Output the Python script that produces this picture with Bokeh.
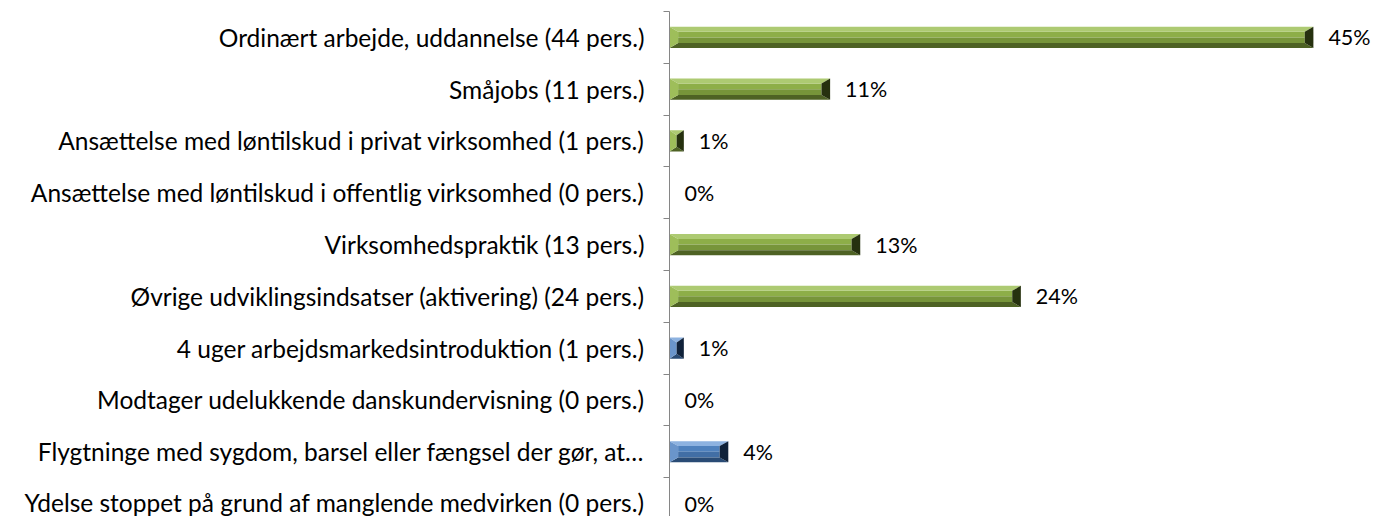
from bokeh.plotting import figure
from bokeh.models import Range1d, FixedTicker, ColumnDataSource
from bokeh.core.properties import value
from bokeh.embed import file_html
from bokeh.resources import INLINE

categories = [
    "Ordinært arbejde, uddannelse (44 pers.)",
    "Småjobs (11 pers.)",
    "Ansættelse med løntilskud i privat virksomhed (1 pers.)",
    "Ansættelse med løntilskud i offentlig virksomhed (0 pers.)",
    "Virksomhedspraktik (13 pers.)",
    "Øvrige udviklingsindsatser (aktivering) (24 pers.)",
    "4 uger arbejdsmarkedsintroduktion (1 pers.)",
    "Modtager udelukkende danskundervisning (0 pers.)",
    "Flygtninge med sygdom, barsel eller fængsel der gør, at…",
    "Ydelse stoppet på grund af manglende medvirken (0 pers.)",
]
percent_values = [44.9, 11.2, 1.0, 0.0, 13.3, 24.5, 1.0, 0.0, 4.1, 0.0]
percent_labels = ["45%", "11%", "1%", "0%", "13%", "24%", "1%", "0%", "4%", "0%"]
bar_groups = ["green", "green", "green", "green", "green", "green", "blue", "blue", "blue", "blue"]

palettes = {
    "green": {"top": "#ADCA72", "face": "#8DAE48", "low": "#77953A", "bottom": "#4E6224",
              "left": "#9EBE5A", "right": "#26310F"},
    "blue": {"top": "#8DB2E0", "face": "#4F81BD", "low": "#416EA5", "bottom": "#294B75",
             "left": "#6A95CB", "right": "#10223A"},
}

n = len(categories)
ys = [n - 1 - i for i in range(n)]

FONT = "Lato"

p = figure(width=1376, height=516, output_backend="svg", toolbar_location=None,
           x_range=Range1d(0, 49.3), y_range=Range1d(-0.25, 9.5),
           min_border_left=669, min_border_right=0, min_border_top=11, min_border_bottom=0)
p.outline_line_color = None
p.xgrid.visible = False
p.ygrid.visible = False
p.xaxis.visible = False

yax = p.yaxis[0]
yax.ticker = FixedTicker(ticks=ys, minor_ticks=[y + 0.5 for y in range(-1, n)])
yax.major_label_overrides = {y: c for y, c in zip(ys, categories)}
yax.major_tick_out = 0
yax.major_tick_in = 0
yax.minor_tick_out = 6
yax.minor_tick_in = 0
yax.minor_tick_line_color = "#868686"
yax.axis_line_color = "#868686"
yax.axis_line_width = 1
yax.major_label_text_font = FONT
yax.major_label_text_font_size = "24.5px"
yax.major_label_text_color = "#000000"
yax.major_label_standoff = 19

h = 0.205   # half bar height (category units)
by = 0.095  # vertical bevel
bx0 = 0.6   # horizontal bevel (data units)

for v, y, g in zip(percent_values, ys, bar_groups):
    if v <= 0:
        continue
    c = palettes[g]
    bx = min(bx0, v / 2.0)
    top, bot = y + h, y - h
    it, ib = top - by, bot + by
    mid = y
    p.quad(left=bx, right=v - bx, bottom=mid, top=it, fill_color=c["face"], line_color=None)
    p.quad(left=bx, right=v - bx, bottom=ib, top=mid, fill_color=c["low"], line_color=None)
    p.patch([0, v, v - bx, bx], [top, top, it, it], fill_color=c["top"], line_color=None)
    p.patch([0, v, v - bx, bx], [bot, bot, ib, ib], fill_color=c["bottom"], line_color=None)
    p.patch([0, 0, bx, bx], [bot, top, it, ib], fill_color=c["left"], line_color=None)
    p.patch([v, v, v - bx, v - bx], [bot, top, it, ib], fill_color=c["right"], line_color=None)

src = ColumnDataSource(dict(x=percent_values, y=ys, t=percent_labels))
p.text(x="x", y="y", text="t", source=src, x_offset=15,
       text_font=value(FONT), text_font_size="21.5px", text_baseline="middle",
       text_align="left", text_color="#000000")

open("out.html", "w").write(file_html(p, INLINE))
